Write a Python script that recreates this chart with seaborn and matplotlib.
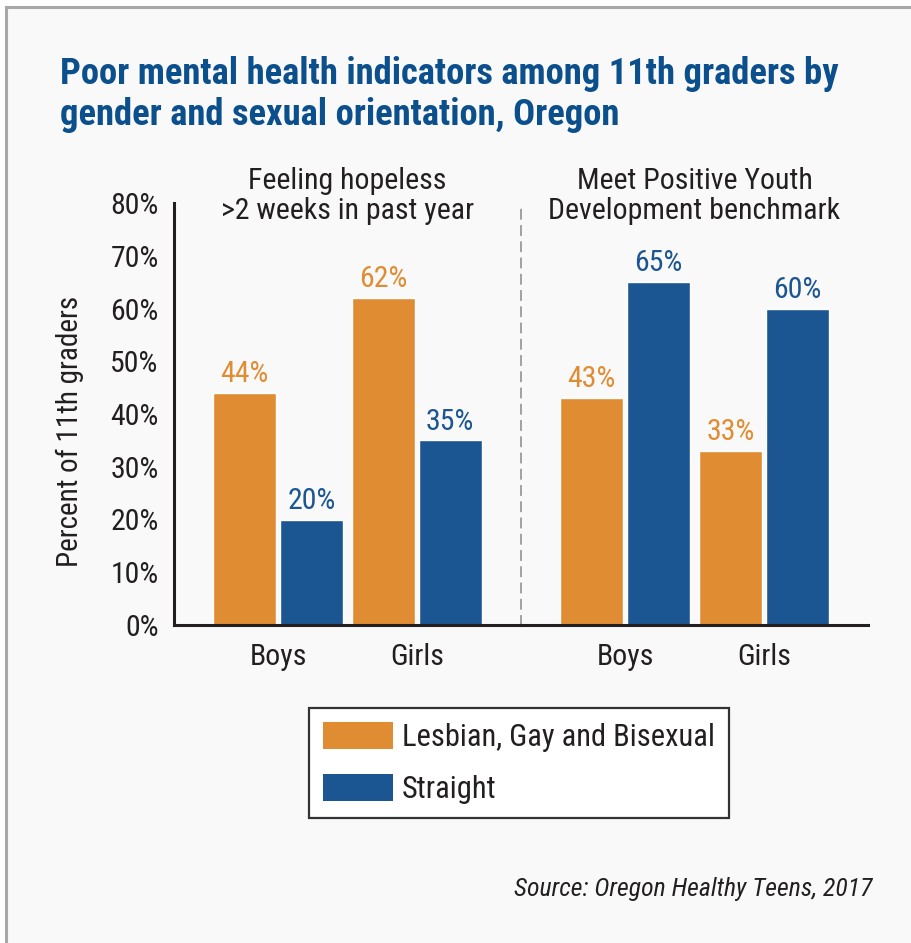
import matplotlib
matplotlib.use('Agg')
import matplotlib.pyplot as plt
from matplotlib.patches import Patch, Rectangle
import pandas as pd
import seaborn as sns

# data
genders = ['Boys', 'Girls']
groups = ['Lesbian, Gay and Bisexual', 'Straight']
hopeless_lgb = [44, 62]
hopeless_straight = [20, 35]
pyd_lgb = [43, 33]
pyd_straight = [65, 60]
panel_titles = ['Feeling hopeless\n>2 weeks in past year',
                'Meet Positive Youth\nDevelopment benchmark']
yticks = [0, 10, 20, 30, 40, 50, 60, 70, 80]
ytick_labels = [f'{v}%' for v in yticks]

orange = '#e08c32'
blue = '#1b5592'
dark = '#231f20'

sns.set_style('white')
plt.rcParams['font.family'] = ['Roboto Condensed', 'DejaVu Sans']


def panel_frame(lgb, straight):
    return pd.DataFrame({
        'gender': genders * 2,
        'group': [groups[0]] * 2 + [groups[1]] * 2,
        'value': lgb + straight,
    })


fig = plt.figure(figsize=(9.12, 9.43), dpi=100, facecolor='white')

# grey framed card behind everything
fig.patches.append(Rectangle((6 / 912, -0.05), 1.1, 1 - 7 / 943 + 0.05,
                             transform=fig.transFigure, facecolor='#f9f9f9',
                             edgecolor='#a8a8a8', linewidth=2.2, zorder=-10))

fig.text(60 / 912, 1 - 56 / 943,
         'Poor mental health indicators among 11th graders by\ngender and sexual orientation, Oregon',
         ha='left', va='top', fontsize=26.4, fontweight='bold', color='#0b4f8c',
         linespacing=1.18)

ax_w = 347 / 912
bottom = 1 - 625 / 943
height = (625 - 203) / 943
ax1 = fig.add_axes([174 / 912, bottom, ax_w, height])
ax2 = fig.add_axes([521 / 912, bottom, ax_w, height])

data = [panel_frame(hopeless_lgb, hopeless_straight), panel_frame(pyd_lgb, pyd_straight)]

for ax, df, ttl in zip([ax1, ax2], data, panel_titles):
    ax.set_facecolor('none')
    sns.barplot(data=df, x='gender', y='value', hue='group', hue_order=groups,
                palette=[orange, blue], width=0.96, gap=0.055, saturation=1,
                legend=False, ax=ax)
    for cont, col in zip(ax.containers, [orange, blue]):
        ax.bar_label(cont, labels=[f'{v:.0f}%' for v in cont.datavalues],
                     padding=3.5, color=col, fontsize=21.5)
    ax.set_xlim(-0.75, 1.75)
    ax.set_ylim(0, 80)
    ax.set_xlabel('')
    ax.set_ylabel('')
    ax.tick_params(axis='x', length=0, pad=13, labelsize=21.5, labelcolor=dark)
    for s in ['top', 'right']:
        ax.spines[s].set_visible(False)
    ax.spines['bottom'].set_linewidth(2.2)
    ax.spines['bottom'].set_color(dark)
    ax.text(0.5, 1.085, ttl, transform=ax.transAxes, ha='center', va='top',
            fontsize=21.5, color=dark, linespacing=1.1)

ax1.set_yticks(yticks)
ax1.set_yticklabels(ytick_labels)
ax1.tick_params(axis='y', direction='in', length=13, width=2.2, color=dark,
                pad=11, labelsize=21.5, labelcolor=dark)
ax1.spines['left'].set_linewidth(2.2)
ax1.spines['left'].set_color(dark)

ax2.set_yticks([])
ax2.spines['left'].set_linestyle((0, (5, 4)))
ax2.spines['left'].set_color('#9a9a9a')
ax2.spines['left'].set_linewidth(1.3)
ax2.set_xticks([-0.75, 1.75], minor=True)
ax2.tick_params(axis='x', which='minor', direction='in', length=7, width=2.2, color=dark)

fig.text(70 / 912, 1 - 431 / 943, 'Percent of 11th graders', rotation=90,
         ha='center', va='center', fontsize=21, color=dark)

handles = [Patch(facecolor=orange, edgecolor='none'), Patch(facecolor=blue, edgecolor='none')]
leg = fig.legend(handles, groups, loc='upper left',
                 bbox_to_anchor=(309 / 912, 1 - 708 / 943), borderaxespad=0,
                 frameon=True, fancybox=False, edgecolor='#333333', facecolor='white',
                 fontsize=22, handlelength=2.3, handleheight=1.0, handletextpad=0.29,
                 labelspacing=0.72, borderpad=0.45, framealpha=1)
leg.get_frame().set_linewidth(1.6)
for t in leg.get_texts():
    t.set_color(dark)

fig.text(873 / 912, 1 - 889 / 943, 'Source: Oregon Healthy Teens, 2017',
         ha='right', va='center', fontsize=18.5, style='italic', color=dark)

fig.savefig('out.png', dpi=100, facecolor='white')
